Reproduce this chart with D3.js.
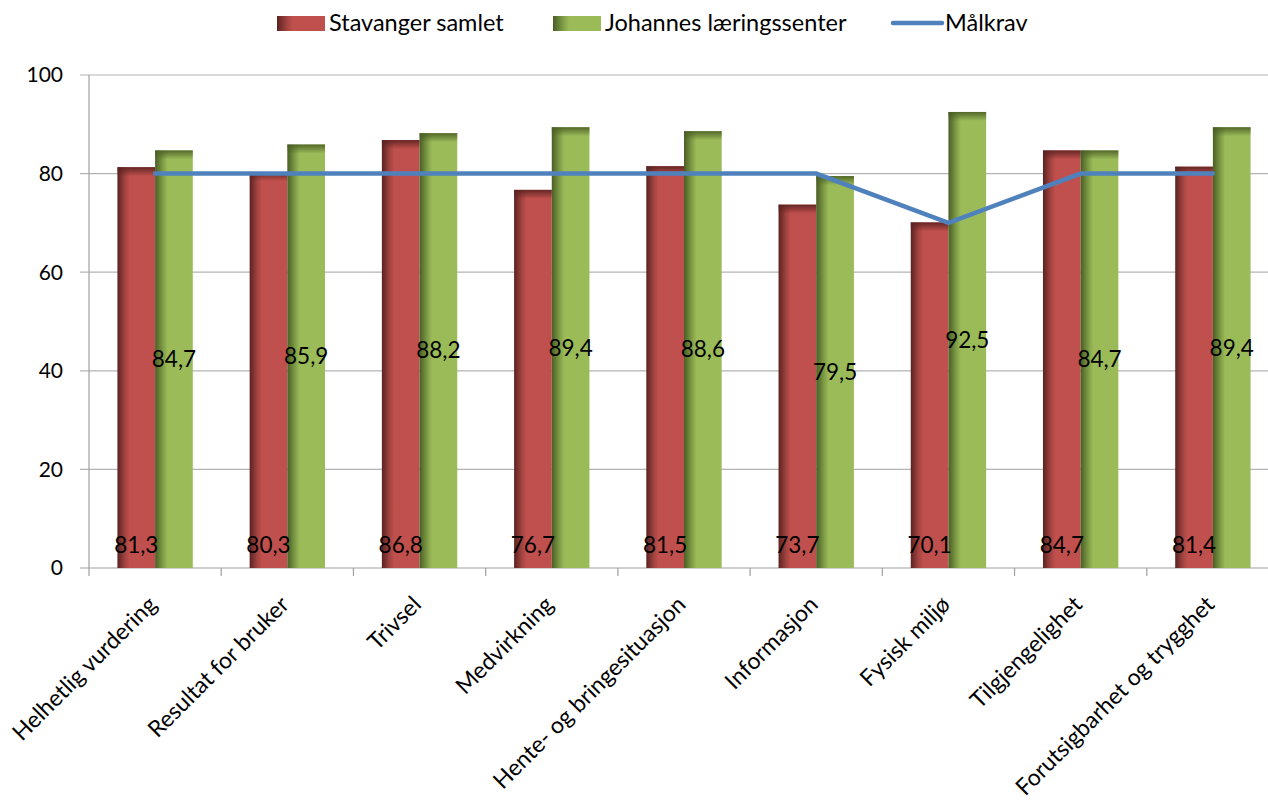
<!DOCTYPE html>
<html lang="no">
<head>
    <meta charset="UTF-8">
    <script src="https://d3js.org/d3.v7.min.js"></script>
    <title>Brukerundersøkelse</title>
    <style>
        body { margin: 0; background: white; }
        svg text { font-family: Lato, "Open Sans", sans-serif; fill: #000; }
    </style>
</head>
<body>
    <div id="chart"></div>
    <script>
        // data
        const categories = ["Helhetlig vurdering", "Resultat for bruker", "Trivsel", "Medvirkning",
            "Hente- og bringesituasjon", "Informasjon", "Fysisk miljø", "Tilgjengelighet",
            "Forutsigbarhet og trygghet"];
        const stavanger = [81.3, 80.3, 86.8, 76.7, 81.5, 73.7, 70.1, 84.7, 81.4];
        const johannes = [84.7, 85.9, 88.2, 89.4, 88.6, 79.5, 92.5, 84.7, 89.4];
        const malkrav = [80, 80, 80, 80, 80, 80, 70, 80, 80];
        const yTicks = [0, 20, 40, 60, 80, 100];

        const width = 1268, height = 803;
        const margin = { top: 75, right: -11, bottom: 235, left: 89 };

        const svg = d3.select("#chart").append("svg")
            .attr("width", width)
            .attr("height", height);

        // gradients for the shaded bars
        const defs = svg.append("defs");
        const makeSide = (id, dark, mid, base) => {
            const g = defs.append("linearGradient").attr("id", id)
                .attr("x1", 0).attr("x2", 1).attr("y1", 0).attr("y2", 0);
            g.append("stop").attr("offset", 0).attr("stop-color", dark);
            g.append("stop").attr("offset", 0.2).attr("stop-color", mid);
            g.append("stop").attr("offset", 0.33).attr("stop-color", base);
            g.append("stop").attr("offset", 1).attr("stop-color", base);
        };
        makeSide("gRed", "#5a2220", "#a14340", "#C0504D");
        makeSide("gGreen", "#4a5e25", "#7d9a45", "#9BBB59");
        const makeTop = (id, dark) => {
            const g = defs.append("linearGradient").attr("id", id)
                .attr("x1", 0).attr("x2", 0).attr("y1", 0).attr("y2", 1);
            g.append("stop").attr("offset", 0).attr("stop-color", dark).attr("stop-opacity", 0.9);
            g.append("stop").attr("offset", 1).attr("stop-color", dark).attr("stop-opacity", 0);
        };
        makeTop("tRed", "#5a2220");
        makeTop("tGreen", "#4a5e25");

        const x = d3.scaleBand()
            .domain(categories)
            .range([margin.left, width - margin.right])
            .paddingInner(0.43)
            .paddingOuter(0.215);
        const xs = d3.scaleBand().domain(["s", "j"]).range([0, x.bandwidth()]);
        const y = d3.scaleLinear().domain([0, 100]).range([height - margin.bottom, margin.top]);
        const step = x.step();
        const x0 = margin.left;

        // grid lines
        svg.append("g").selectAll("line")
            .data(yTicks.filter(d => d > 0))
            .join("line")
            .attr("x1", x0 - 9).attr("x2", width)
            .attr("y1", d => y(d)).attr("y2", d => y(d))
            .attr("stroke", "#b3b3b3").attr("stroke-width", 1.2);

        // axes
        svg.append("line")
            .attr("x1", x0).attr("x2", x0)
            .attr("y1", y(100)).attr("y2", y(0))
            .attr("stroke", "#a0a0a0").attr("stroke-width", 1.2);
        svg.append("line")
            .attr("x1", x0 - 9).attr("x2", width)
            .attr("y1", y(0)).attr("y2", y(0))
            .attr("stroke", "#a0a0a0").attr("stroke-width", 1.2);
        svg.append("g").selectAll("line")
            .data(d3.range(categories.length + 1))
            .join("line")
            .attr("x1", i => x0 + i * step).attr("x2", i => x0 + i * step)
            .attr("y1", y(0)).attr("y2", y(0) + 8)
            .attr("stroke", "#a0a0a0").attr("stroke-width", 1.2);

        svg.append("g").selectAll("text")
            .data(yTicks)
            .join("text")
            .attr("x", 63)
            .attr("y", d => y(d))
            .attr("dy", "0.35em")
            .attr("text-anchor", "end")
            .attr("font-size", 21)
            .text(d => d);

        // bars
        const series = [
            { key: "s", values: stavanger, side: "gRed", top: "tRed" },
            { key: "j", values: johannes, side: "gGreen", top: "tGreen" }
        ];
        series.forEach(s => {
            const g = svg.append("g");
            g.selectAll("rect.bar")
                .data(categories)
                .join("rect")
                .attr("class", "bar")
                .attr("x", (c) => x(c) + xs(s.key))
                .attr("width", xs.bandwidth())
                .attr("y", (c, i) => y(s.values[i]))
                .attr("height", (c, i) => y(0) - y(s.values[i]))
                .attr("fill", `url(#${s.side})`);
            g.selectAll("rect.top")
                .data(categories)
                .join("rect")
                .attr("class", "top")
                .attr("x", (c) => x(c) + xs(s.key))
                .attr("width", xs.bandwidth())
                .attr("y", (c, i) => y(s.values[i]))
                .attr("height", 9)
                .attr("fill", `url(#${s.top})`);
        });

        // target line
        const line = d3.line()
            .x((d, i) => x(categories[i]) + x.bandwidth() / 2)
            .y(d => y(d));
        svg.append("path")
            .datum(malkrav)
            .attr("d", line)
            .attr("fill", "none")
            .attr("stroke", "#4F81BD")
            .attr("stroke-width", 4.5)
            .attr("stroke-linecap", "round");

        // data labels
        const fmt = v => String(v.toFixed(1)).replace(".", ",");
        svg.append("g").selectAll("text")
            .data(categories)
            .join("text")
            .attr("x", c => x(c) + xs("s") + xs.bandwidth() / 2)
            .attr("y", y(0) - 23)
            .attr("dy", "0.35em")
            .attr("text-anchor", "middle")
            .attr("font-size", 22.5)
            .text((c, i) => fmt(stavanger[i]));
        svg.append("g").selectAll("text")
            .data(categories)
            .join("text")
            .attr("x", c => x(c) + xs("j") + xs.bandwidth() / 2)
            .attr("y", (c, i) => y(johannes[i] / 2))
            .attr("dy", "0.35em")
            .attr("text-anchor", "middle")
            .attr("font-size", 22.5)
            .text((c, i) => fmt(johannes[i]));

        // category labels
        svg.append("g").selectAll("text")
            .data(categories)
            .join("text")
            .attr("transform", c => `translate(${x(c) + x.bandwidth() / 2 + 3},${y(0) + 38}) rotate(-45)`)
            .attr("text-anchor", "end")
            .attr("font-size", 23)
            .text(c => c);

        // legend
        const legend = svg.append("g");
        const legendItems = [
            { label: "Stavanger samlet", x: 277, type: "rect", side: "gRed", top: "tRed" },
            { label: "Johannes læringssenter", x: 553, type: "rect", side: "gGreen", top: "tGreen" },
            { label: "Målkrav", x: 893, type: "line" }
        ];
        legendItems.forEach(d => {
            if (d.type === "rect") {
                legend.append("rect").attr("x", d.x).attr("y", 16).attr("width", 48).attr("height", 15)
                    .attr("fill", `url(#${d.side})`);
            } else {
                legend.append("line").attr("x1", d.x).attr("x2", d.x + 49)
                    .attr("y1", 23).attr("y2", 23)
                    .attr("stroke", "#4F81BD").attr("stroke-width", 4.5).attr("stroke-linecap", "round");
            }
            legend.append("text").attr("x", d.x + 52).attr("y", 23).attr("dy", "0.35em")
                .attr("font-size", 23.5).text(d.label);
        });
    </script>
</body>
</html>
